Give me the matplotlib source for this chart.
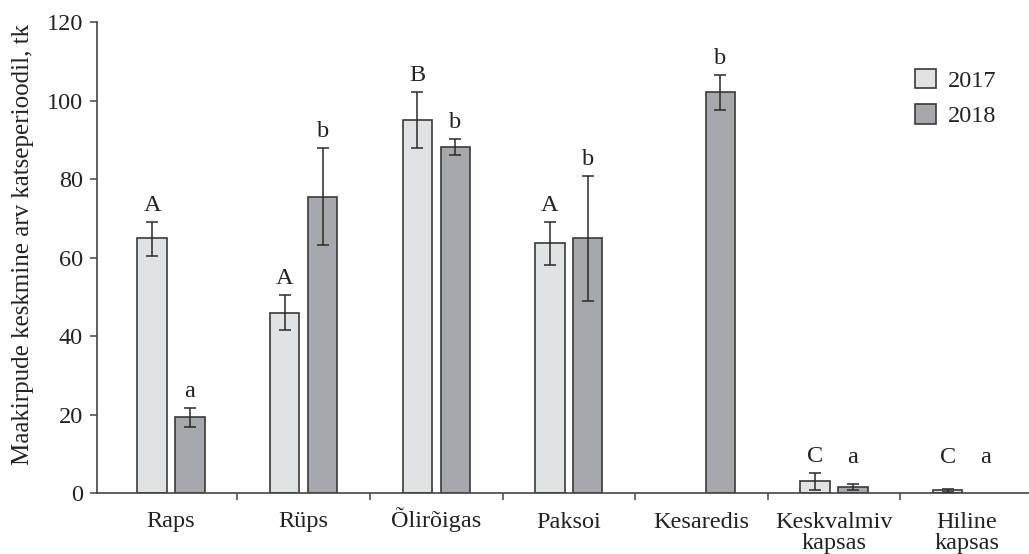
import numpy as np
import matplotlib
matplotlib.use("Agg")
import matplotlib.pyplot as plt
from matplotlib.patches import Patch

plt.rcParams['font.family'] = ['Liberation Serif', 'DejaVu Serif']

categories = ["Raps", "Rüps", "Õlirõigas", "Paksoi", "Kesaredis",
              "Keskvalmiv\nkapsas", "Hiline\nkapsas"]
years = ["2017", "2018"]

# mean counts (None = not studied that year)
mean_2017 = [65.0, 46.0, 95.0, 63.8, None, 3.2, 0.8]
mean_2018 = [19.5, 75.5, 88.2, 64.9, 102.2, 1.5, 0.0]
# error bar ends (lower, upper)
low_2017 = [60.5, 41.7, 87.8, 58.2, None, 0.9, 0.45]
high_2017 = [69.2, 50.4, 102.3, 69.1, None, 5.1, 1.2]
low_2018 = [17.0, 63.1, 86.2, 48.9, 97.7, 0.9, None]
high_2018 = [21.8, 88.0, 90.2, 80.8, 106.6, 2.4, None]
# significance letters
letters_2017 = ["A", "A", "B", "A", None, "C", "C"]
letters_2018 = ["a", "b", "b", "b", "b", "a", "a"]

colors = {"2017": "#e1e2e4", "2018": "#a7a8ac"}
edge = "#3a3a3a"
text_color = "#222222"
fs = 17.5

W, H = 1029, 554
ax_top, ax_bottom, ax_left = 22.0, 493.3, 97.0
ax_h_px = ax_bottom - ax_top

fig = plt.figure(figsize=(W / 100, H / 100), dpi=100)
ax = fig.add_axes([ax_left / W, 1 - ax_bottom / H, 1 - ax_left / W, ax_h_px / H])

x = np.arange(len(categories))
width = 0.221
offset = 0.143

series = [
    ("2017", -offset, mean_2017, low_2017, high_2017, letters_2017),
    ("2018", offset, mean_2018, low_2018, high_2018, letters_2018),
]

for year, off, means, lows, highs, letters in series:
    for i, m in enumerate(means):
        xi = x[i] + off
        top = 0.0
        if m is not None and m > 0:
            ax.bar(xi, m, width=width, color=colors[year], edgecolor=edge,
                   linewidth=1.2, zorder=2)
            top = m
        if lows[i] is not None:
            ax.errorbar(xi, m, yerr=[[m - lows[i]], [highs[i] - m]],
                        fmt='none', ecolor="#2a2a2a", elinewidth=1.1,
                        capsize=4.5, capthick=1.1, zorder=3)
            top = highs[i]
        if letters[i] is not None:
            ax.text(xi, max(top + 2.8, 7.6), letters[i], ha='center',
                    va='baseline', fontsize=fs, color=text_color)

ax.set_xlim(-0.558, 6.47)
ax.set_ylim(0, 120)
ax.set_yticks(np.arange(0, 121, 20))

# group boundaries as ticks; group names written line by line on a baseline
ax.set_xticks(x[:-1] + 0.5)
ax.set_xticklabels([])
first_base = -34.2 / ax_h_px
line_step = 21.0 / ax_h_px
xtrans = ax.get_xaxis_transform()
for xi, name in zip(x, categories):
    for k, line in enumerate(name.split("\n")):
        ax.text(xi, first_base - k * line_step, line, transform=xtrans,
                ha='center', va='baseline', fontsize=fs, color=text_color,
                clip_on=False)

ax.tick_params(axis='x', direction='out', length=5, width=1.1,
               color="#444444")
ax.tick_params(axis='y', direction='out', length=5, width=1.1,
               color="#444444", labelsize=fs, labelcolor=text_color, pad=5)

for s in ["top", "right"]:
    ax.spines[s].set_visible(False)
for s in ["left", "bottom"]:
    ax.spines[s].set_linewidth(1.2)
    ax.spines[s].set_color("#444444")

ax.set_ylabel("Maakirpude keskmine arv katseperioodil, tk", fontsize=18,
              color=text_color)
ax.yaxis.set_label_coords(-0.068, 0.527)

handles = [Patch(facecolor=colors[y], edgecolor=edge, linewidth=1.2)
           for y in years]
leg = fig.legend(handles, years, loc='upper left',
                 bbox_to_anchor=(915 / W, 1 - 69 / H), frameon=False,
                 fontsize=fs, handlelength=0.86, handleheight=0.85,
                 handletextpad=0.5, labelspacing=0.5, borderpad=0,
                 borderaxespad=0)
for t in leg.get_texts():
    t.set_color(text_color)

fig.savefig("out.png", dpi=100)
